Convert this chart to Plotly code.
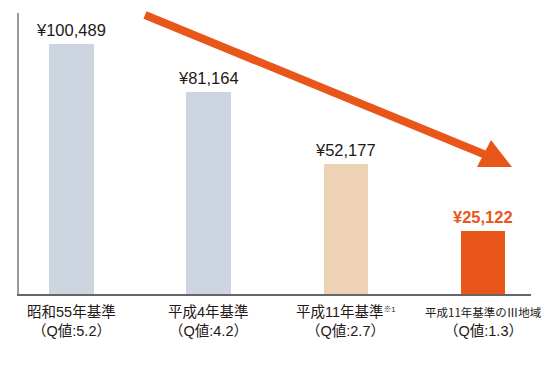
import plotly.graph_objects as go

categories = ["昭和55年基準", "平成4年基準", "平成11年基準", "平成11年基準のⅢ地域"]
q_values = ["5.2", "4.2", "2.7", "1.3"]
costs = [100489, 81164, 52177, 25122]
bar_colors = ["#cdd5e0", "#cdd5e0", "#eed2b5", "#e8561a"]
label_colors = ["#231815", "#231815", "#231815", "#e8561a"]
label_bold = [False, False, False, True]
notes = ["", "", "※1", ""]
name_sizes = [14.5, 14.5, 14.5, 11.5]
name_fonts = ["Liberation Sans, Noto Sans CJK JP, sans-serif"] * 3 + ["Noto Sans CJK JP, sans-serif"]

# page body has an 8px default margin; lay out in window pixels
OFF = 8
WIN_W, WIN_H = 550, 374
W, H = WIN_W - OFF, WIN_H - OFF
PL, PR, PT, PB = 19, 531, 13, 294  # plot area in window pixels
L, T = PL - OFF, PT - OFF
R, B = WIN_W - PR, WIN_H - PB
pw, ph = PR - PL, PB - PT

CJK = "Liberation Sans, Noto Sans CJK JP, sans-serif"


def px(x):
    return (x - PL) / pw


def py(y):
    return (PB - y) / ph


x_idx = list(range(len(categories)))

fig = go.Figure()
fig.add_trace(go.Bar(
    x=x_idx, y=costs, width=0.324,
    marker=dict(color=bar_colors, line=dict(width=0)),
    hoverinfo="skip",
))

for i, v in enumerate(costs):
    t = f"¥{v:,}"
    if label_bold[i]:
        t = f"<b>{t}</b>"
    fig.add_annotation(
        x=i, y=v, text=t, showarrow=False,
        yanchor="bottom", yshift=3,
        font=dict(family="Liberation Sans, Arial, sans-serif", size=16.5,
                  color=label_colors[i]),
    )

for i, name in enumerate(categories):
    txt = name
    if notes[i]:
        txt += f"<span style='font-size:11px'><sup>{notes[i]}</sup></span>"
    fig.add_annotation(
        x=i, xref="x", y=py(312), yref="paper", text=txt, showarrow=False,
        yanchor="middle", xanchor="center",
        font=dict(family=name_fonts[i], size=name_sizes[i], color="#231815"),
    )
    fig.add_annotation(
        x=i, xref="x", y=py(331), yref="paper", text=f"（Q値:{q_values[i]}）",
        showarrow=False, yanchor="middle", xanchor="center",
        font=dict(family=CJK, size=14.5, color="#231815"),
    )

orange = "#e8561a"
# arrow shaft
fig.add_shape(type="line", xref="paper", yref="paper",
              x0=px(145), y0=py(15), x1=px(486), y1=py(155),
              line=dict(color=orange, width=8))
# arrow head
fig.add_shape(type="path", xref="paper", yref="paper",
              path=f"M {px(491)},{py(140)} L {px(512)},{py(167)} L {px(477)},{py(167)} Z",
              fillcolor=orange, line=dict(width=0))

fig.update_layout(
    width=W, height=H,
    margin=dict(l=L, r=R, t=T, b=B, pad=0, autoexpand=False),
    paper_bgcolor="white", plot_bgcolor="white",
    showlegend=False,
    bargap=0,
    font=dict(family=CJK, size=14.5, color="#231815"),
)
fig.update_xaxes(
    range=[-0.381, 3.348], showticklabels=False, automargin=False,
    showline=True, linecolor="#666666", linewidth=1.5, ticks="",
    showgrid=False, zeroline=False, fixedrange=True,
)
fig.update_yaxes(
    range=[0, 112800], showline=True, linecolor="#9a9a9a", linewidth=1.5,
    showticklabels=False, ticks="", showgrid=False, zeroline=False, fixedrange=True,
    automargin=False,
)

fig.write_html("out.html", config={"displayModeBar": False})
